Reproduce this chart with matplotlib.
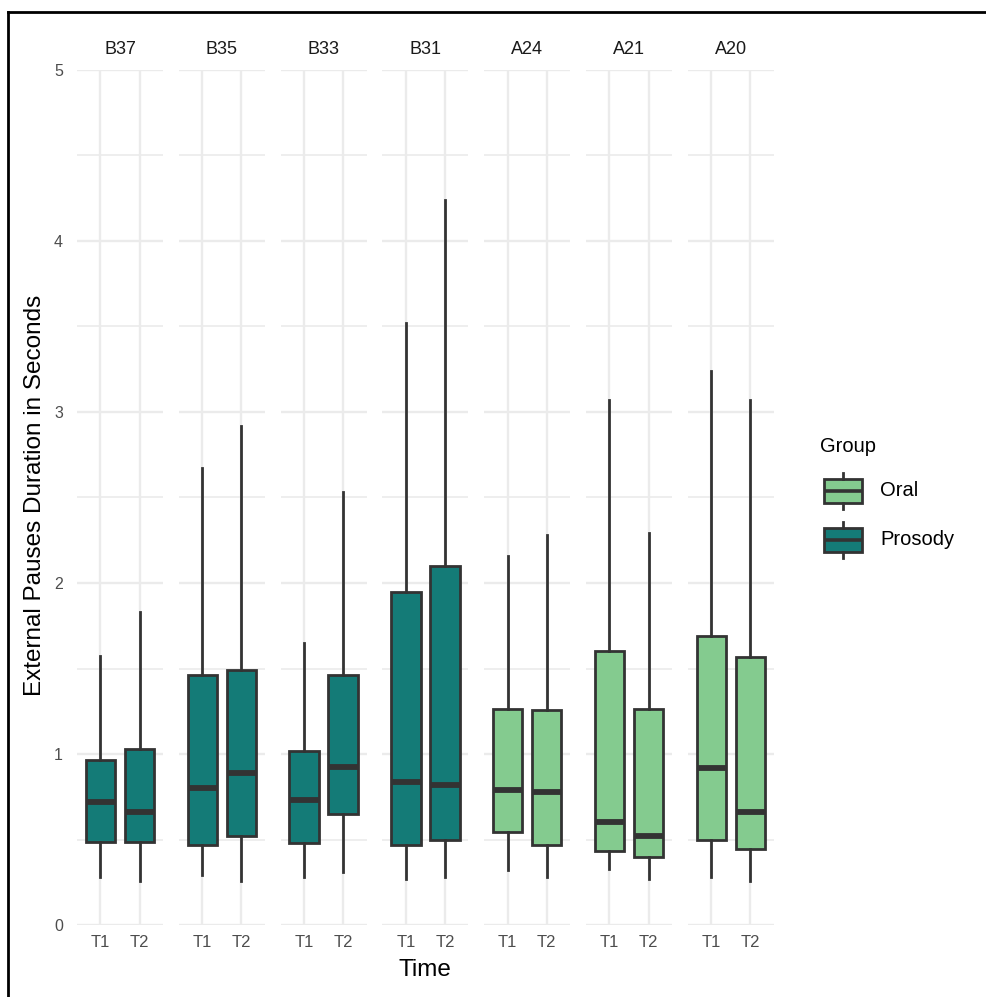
import numpy as np
import matplotlib.pyplot as plt
from matplotlib.patches import Rectangle
from matplotlib.lines import Line2D

plt.rcParams['font.family'] = ['Liberation Sans', 'DejaVu Sans']

# facets (speakers) and their group
speakers = ['B37', 'B35', 'B33', 'B31', 'A24', 'A21', 'A20']
groups = ['Prosody', 'Prosody', 'Prosody', 'Prosody', 'Oral', 'Oral', 'Oral']
times = ['T1', 'T2']

# box statistics per speaker, [T1, T2] (seconds)
whisker_low = [[0.28, 0.26], [0.29, 0.26], [0.28, 0.31], [0.27, 0.28], [0.32, 0.28], [0.33, 0.27], [0.28, 0.26]]
q1 = [[0.485, 0.485], [0.47, 0.52], [0.48, 0.65], [0.47, 0.50], [0.545, 0.465], [0.43, 0.40], [0.50, 0.445]]
median = [[0.72, 0.66], [0.80, 0.89], [0.73, 0.925], [0.835, 0.82], [0.79, 0.78], [0.60, 0.52], [0.92, 0.66]]
q3 = [[0.965, 1.03], [1.46, 1.49], [1.02, 1.46], [1.945, 2.10], [1.265, 1.255], [1.605, 1.265], [1.69, 1.57]]
whisker_high = [[1.575, 1.83], [2.675, 2.92], [1.65, 2.53], [3.52, 4.24], [2.155, 2.28], [3.07, 2.29], [3.24, 3.07]]

group_colors = {'Oral': '#84CB8F', 'Prosody': '#147B77'}
edge = '#333333'
grid_col = '#EBEBEB'

W, H = 987, 997
fig = plt.figure(figsize=(W / 100, H / 100), dpi=100)

# helper: pixel box -> figure fraction
def px_axes(x0, y0, x1, y1):
    return fig.add_axes([x0 / W, 1 - y1 / H, (x1 - x0) / W, (y1 - y0) / H])

panel_left = 77
panel_step = 101.8
panel_w = 86
panel_top, panel_bottom = 70, 925

for i, name in enumerate(speakers):
    x0 = panel_left + i * panel_step
    ax = px_axes(x0, panel_top, x0 + panel_w, panel_bottom)
    stats = []
    for j, t in enumerate(times):
        stats.append({'med': median[i][j], 'q1': q1[i][j], 'q3': q3[i][j],
                      'whislo': whisker_low[i][j], 'whishi': whisker_high[i][j],
                      'fliers': [], 'label': t})
    ax.bxp(stats, positions=[1, 2], widths=0.75, patch_artist=True,
           showcaps=False, showfliers=False,
           boxprops=dict(facecolor=group_colors[groups[i]], edgecolor=edge, linewidth=2.0),
           medianprops=dict(color=edge, linewidth=4.2, solid_capstyle='butt'),
           whiskerprops=dict(color=edge, linewidth=2.0))
    ax.set_xlim(0.4, 2.6)
    ax.set_ylim(0, 5)
    ax.set_xticks([1, 2])
    ax.set_xticklabels(times)
    ax.set_yticks(np.arange(0, 6, 1))
    ax.set_yticks(np.arange(0.5, 5, 1), minor=True)
    ax.grid(which='major', color=grid_col, linewidth=1.7)
    ax.grid(which='minor', axis='y', color=grid_col, linewidth=1.2)
    ax.set_axisbelow(True)
    for s in ax.spines.values():
        s.set_visible(False)
    ax.tick_params(which='both', length=0)
    ax.tick_params(axis='x', labelsize=12, labelcolor='#4D4D4D', pad=7)
    ax.tick_params(axis='y', labelsize=11.5, labelcolor='#4D4D4D', pad=10)
    if i > 0:
        ax.set_yticklabels([])
    ax.text(0.5, 1 + 20 / (panel_bottom - panel_top), name, transform=ax.transAxes,
            ha='center', va='center', fontsize=13, color='#1A1A1A')

# axis titles
fig.text((panel_left + 6 * panel_step + panel_w + panel_left) / 2 / W, 1 - 970 / H, 'Time',
         ha='center', va='center', fontsize=17.5)
fig.text(35 / W, 1 - 495 / H, 'External Pauses Duration in Seconds', rotation=90,
         ha='center', va='center', fontsize=17.5)

# legend drawn in pixel space
lax = px_axes(800, 420, 985, 580)
lax.set_xlim(800, 985)
lax.set_ylim(580, 420)
lax.axis('off')
lax.text(820, 446, 'Group', ha='left', va='center', fontsize=14.5)
for name, yc in [('Oral', 490.5), ('Prosody', 539.5)]:
    lax.add_patch(Rectangle((824, yc - 12), 38, 24, facecolor=group_colors[name],
                            edgecolor=edge, linewidth=2.0))
    lax.plot([824, 862], [yc, yc], color=edge, linewidth=2.6, solid_capstyle='butt')
    lax.plot([843, 843], [yc - 18, yc - 12], color=edge, linewidth=2.0)
    lax.plot([843, 843], [yc + 12, yc + 18], color=edge, linewidth=2.0)
    lax.text(880, yc, name, ha='left', va='center', fontsize=14.5)

# outer frame of the screenshot
fig.add_artist(Line2D([8 / W, 1], [1 - 12 / H, 1 - 12 / H], color='black', linewidth=2))
fig.add_artist(Line2D([8 / W, 8 / W], [0, 1 - 12 / H], color='black', linewidth=2))

fig.savefig('out.png', dpi=100)
